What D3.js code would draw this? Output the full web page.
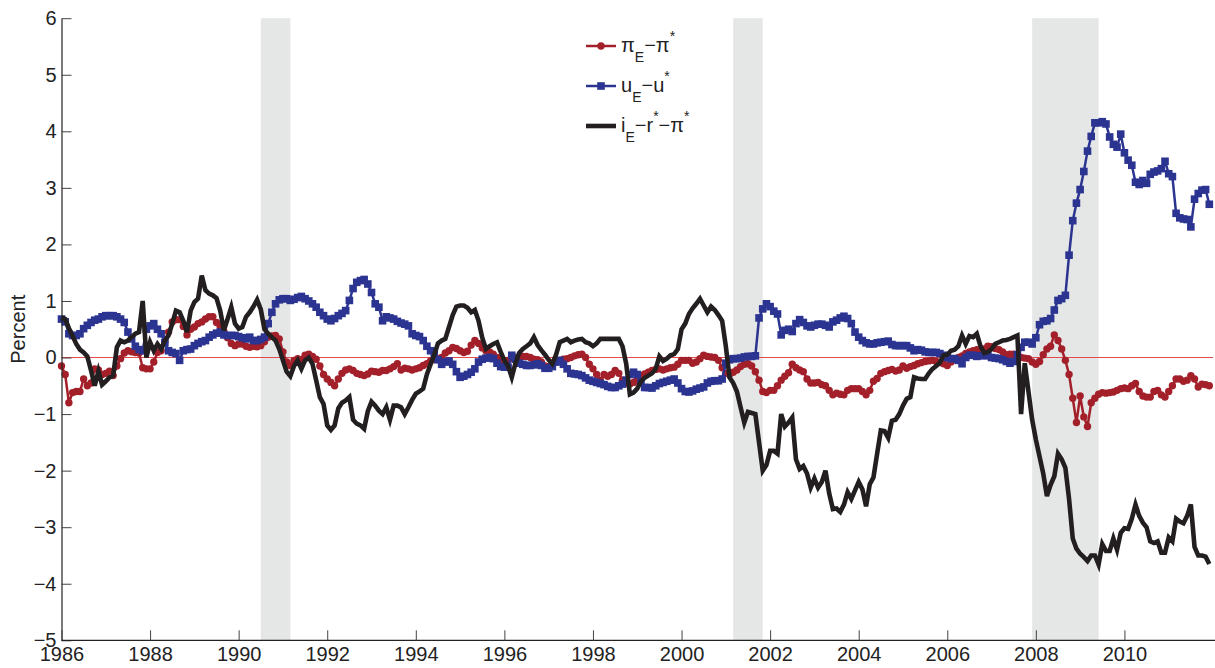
<!DOCTYPE html>
<html>
<head>
<meta charset="utf-8">
<script src="https://cdn.jsdelivr.net/npm/d3@7/dist/d3.min.js"></script>
<style>
  html, body { margin: 0; padding: 0; background: #fff; }
  svg { display: block; font-family: "Liberation Sans", Arial, Helvetica, sans-serif; }
</style>
</head>
<body>
<script>
// Monthly gaps, January 1986 onward (percent)
const startYear = 1986;

// inflation gap: pi_E - pi*
const piGap = [
  -0.15,-0.3,-0.8,-0.62,-0.6,-0.6,-0.38,-0.5,-0.45,-0.2,
  -0.22,-0.3,-0.28,-0.24,-0.32,-0.15,-0.02,0.08,0.12,0.1,
  0.09,0.08,-0.18,-0.2,-0.2,-0.08,0.09,0.12,0.28,0.45,
  0.63,0.67,0.67,0.55,0.4,0.5,0.54,0.6,0.63,0.68,
  0.72,0.72,0.62,0.55,0.46,0.35,0.25,0.21,0.24,0.24,
  0.2,0.18,0.2,0.19,0.21,0.28,0.36,0.38,0.39,0.33,
  0.1,-0.08,-0.14,-0.05,-0.02,-0.04,0.04,0.06,0.02,-0.03,
  -0.15,-0.3,-0.38,-0.44,-0.5,-0.38,-0.28,-0.22,-0.2,-0.23,
  -0.28,-0.3,-0.32,-0.29,-0.24,-0.25,-0.26,-0.23,-0.23,-0.2,
  -0.16,-0.11,-0.22,-0.19,-0.2,-0.22,-0.2,-0.18,-0.14,-0.11,
  -0.06,-0.03,-0.02,0,0.08,0.12,0.18,0.16,0.12,0.09,
  0.11,0.22,0.3,0.25,0.17,0.12,0.1,0.06,0,-0.04,
  -0.05,-0.05,-0.02,0,0.01,0.02,0.02,0,-0.03,-0.04,
  -0.08,-0.15,-0.16,-0.12,-0.08,-0.05,-0.03,-0.02,0,0.03,
  0.05,0.06,0,-0.12,-0.2,-0.3,-0.4,-0.3,-0.33,-0.3,
  -0.23,-0.28,-0.4,-0.45,-0.47,-0.44,-0.38,-0.32,-0.29,-0.26,
  -0.23,-0.21,-0.2,-0.22,-0.2,-0.18,-0.17,-0.12,-0.05,-0.05,
  -0.05,-0.1,-0.08,-0.02,0.04,0.02,0.01,0,-0.05,-0.18,
  -0.28,-0.3,-0.26,-0.22,-0.16,-0.12,-0.11,-0.15,-0.25,-0.4,
  -0.6,-0.62,-0.58,-0.58,-0.5,-0.4,-0.33,-0.27,-0.12,-0.18,
  -0.22,-0.25,-0.38,-0.45,-0.45,-0.44,-0.48,-0.5,-0.58,-0.66,
  -0.63,-0.65,-0.66,-0.58,-0.55,-0.55,-0.55,-0.6,-0.66,-0.58,
  -0.42,-0.37,-0.28,-0.25,-0.23,-0.21,-0.24,-0.22,-0.15,-0.19,
  -0.16,-0.14,-0.11,-0.09,-0.07,-0.06,-0.05,-0.07,-0.09,-0.11,
  -0.14,-0.08,-0.03,0,0.03,0.07,0.1,0.12,0.14,0.13,
  0.15,0.2,0.19,0.16,0.14,0.1,0.05,0.06,0.06,0.02,
  0,-0.01,-0.02,-0.08,-0.12,-0.07,0.05,0.15,0.2,0.4,
  0.3,0.15,-0.05,-0.3,-0.72,-1.15,-0.68,-1.05,-1.22,-0.8,
  -0.72,-0.65,-0.62,-0.63,-0.62,-0.61,-0.58,-0.55,-0.54,-0.55,
  -0.5,-0.46,-0.6,-0.68,-0.7,-0.7,-0.6,-0.58,-0.66,-0.7,
  -0.6,-0.5,-0.38,-0.38,-0.42,-0.4,-0.32,-0.38,-0.52,-0.47,
  -0.48,-0.5
];

// unemployment gap: u_E - u*
const uGap = [
  0.68,0.63,0.42,0.39,0.39,0.42,0.51,0.57,0.62,0.66,
  0.68,0.72,0.74,0.74,0.74,0.72,0.68,0.62,0.45,0.33,
  0.2,0.14,0.12,0.5,0.56,0.6,0.5,0.42,0.26,0.12,
  0.09,0.07,-0.05,0.12,0.14,0.15,0.21,0.25,0.28,0.3,
  0.36,0.4,0.43,0.45,0.4,0.39,0.39,0.39,0.37,0.35,
  0.33,0.36,0.3,0.3,0.32,0.36,0.6,0.8,0.95,1.02,
  1.04,1.04,1.01,1.03,1.06,1.08,1.04,1.0,0.95,0.89,
  0.8,0.74,0.68,0.65,0.69,0.74,0.78,0.83,1.01,1.22,
  1.33,1.36,1.38,1.3,1.15,0.95,0.89,0.65,0.72,0.7,
  0.68,0.64,0.61,0.59,0.56,0.42,0.39,0.37,0.3,0.2,
  0.12,0.08,-0.04,-0.12,-0.08,-0.06,-0.12,-0.25,-0.35,-0.33,
  -0.3,-0.26,-0.2,-0.08,-0.03,-0.01,0,-0.02,-0.1,-0.16,
  -0.17,-0.17,0.04,-0.03,-0.1,-0.12,-0.14,-0.14,-0.13,-0.11,
  -0.14,-0.19,-0.19,-0.16,-0.08,-0.05,-0.12,-0.2,-0.28,-0.29,
  -0.3,-0.32,-0.36,-0.4,-0.42,-0.44,-0.46,-0.48,-0.51,-0.53,
  -0.53,-0.5,-0.47,-0.4,-0.3,-0.26,-0.3,-0.44,-0.53,-0.53,
  -0.54,-0.5,-0.46,-0.44,-0.42,-0.4,-0.38,-0.45,-0.55,-0.6,
  -0.61,-0.59,-0.56,-0.54,-0.52,-0.45,-0.42,-0.41,-0.41,-0.38,
  -0.1,-0.04,-0.02,-0.02,-0.01,0.01,0.02,0.02,0.03,0.7,
  0.86,0.95,0.9,0.82,0.77,0.4,0.48,0.5,0.46,0.6,
  0.67,0.62,0.56,0.54,0.57,0.59,0.59,0.57,0.54,0.63,
  0.66,0.7,0.73,0.69,0.6,0.45,0.36,0.3,0.26,0.24,
  0.24,0.26,0.27,0.28,0.29,0.23,0.21,0.21,0.21,0.21,
  0.17,0.12,0.14,0.13,0.1,0.09,0.09,0.09,0.07,0.04,
  0,-0.02,-0.02,-0.05,-0.11,0,0.04,0.04,0.02,0.03,
  0.04,0.03,0,-0.01,-0.02,-0.04,-0.07,-0.1,-0.07,0.05,
  0.18,0.27,0.27,0.24,0.35,0.58,0.64,0.65,0.69,0.84,
  1.01,1.04,1.1,1.81,2.42,2.73,2.97,3.29,3.65,3.91,
  4.15,4.15,4.17,4.13,3.9,3.77,3.72,3.95,3.62,3.49,
  3.4,3.1,3.06,3.13,3.08,3.24,3.28,3.3,3.34,3.47,
  3.25,3.2,2.55,2.47,2.45,2.44,2.31,2.8,2.9,2.96,
  2.97,2.71
];

// real policy-rate gap: i_E - r* - pi*
const iGap = [
  0.71,0.68,0.52,0.38,0.24,0.14,0.09,0.02,-0.23,-0.5,
  -0.24,-0.48,-0.42,-0.35,-0.32,0.18,0.3,0.27,0.3,0.36,
  0.42,0.45,1.0,0,0.27,0.12,0.24,0.15,0.3,0.39,
  0.6,0.83,0.8,0.65,0.45,0.83,0.98,1.04,1.45,1.19,
  1.13,1.1,1.05,0.83,0.48,0.68,0.89,0.6,0.51,0.54,
  0.72,0.8,0.9,1.02,0.85,0.5,0.42,0.36,0.3,0.15,
  -0.05,-0.25,-0.33,-0.15,-0.05,-0.2,-0.05,0,-0.11,-0.4,
  -0.7,-0.82,-1.2,-1.28,-1.2,-0.9,-0.8,-0.76,-0.7,-1.1,
  -1.17,-1.2,-1.26,-0.95,-0.78,-0.85,-0.94,-1.0,-0.88,-1.1,
  -0.85,-0.85,-0.88,-1.0,-0.88,-0.75,-0.64,-0.6,-0.55,-0.3,
  -0.12,0.05,0.25,0.3,0.33,0.54,0.75,0.9,0.92,0.92,
  0.88,0.8,0.84,0.65,0.35,0.15,0.2,0.24,0.27,0.1,
  -0.05,-0.15,-0.35,-0.1,0.08,0.15,0.2,0.25,0.36,0.22,
  0.13,0.05,-0.04,-0.11,0.05,0.27,0.3,0.33,0.27,0.3,
  0.32,0.33,0.27,0.25,0.2,0.25,0.33,0.33,0.33,0.33,
  0.33,0.33,0.2,-0.11,-0.65,-0.62,-0.55,-0.42,-0.36,-0.32,
  -0.28,-0.2,0.02,-0.06,-0.02,0.04,0.06,0.15,0.5,0.6,
  0.77,0.87,0.95,1.04,0.92,0.8,0.9,0.84,0.75,0.65,
  0.2,-0.35,-0.45,-0.6,-0.88,-1.15,-0.96,-0.98,-1.0,-1.5,
  -2.0,-1.9,-1.65,-1.65,-1.7,-1.0,-1.22,-1.15,-1.06,-1.8,
  -1.97,-1.92,-2.05,-2.3,-2.14,-2.3,-2.2,-2.0,-2.4,-2.68,
  -2.67,-2.73,-2.6,-2.38,-2.5,-2.35,-2.2,-2.33,-2.63,-2.24,
  -2.12,-1.7,-1.29,-1.3,-1.42,-1.12,-1.1,-1.0,-0.85,-0.73,
  -0.7,-0.35,-0.37,-0.38,-0.38,-0.28,-0.2,-0.15,-0.09,0.04,
  0.05,0.12,0.14,0.2,0.39,0.24,0.38,0.36,0.42,0.2,
  0.08,0.1,0.15,0.24,0.27,0.3,0.31,0.33,0.36,0.39,
  -1.0,-0.1,-0.6,-1.1,-1.45,-1.75,-2.05,-2.45,-2.25,-2.1,
  -1.7,-1.8,-1.95,-2.5,-3.2,-3.38,-3.47,-3.53,-3.6,-3.5,
  -3.5,-3.66,-3.3,-3.42,-3.42,-3.2,-3.4,-3.1,-3.02,-3.03,
  -2.85,-2.6,-2.8,-2.92,-3.0,-3.25,-3.28,-3.25,-3.45,-3.45,
  -3.18,-3.25,-2.85,-2.9,-2.93,-2.8,-2.6,-3.35,-3.5,-3.5,
  -3.52,-3.65
];

// NBER recessions (start, end), in fractional years
const recessions = [[1990.5, 1991.167], [2001.167, 2001.833], [2007.917, 2009.417]];

const xTickYears = [1986, 1988, 1990, 1992, 1994, 1996, 1998, 2000, 2002, 2004, 2006, 2008, 2010];
const yTickValues = [-5, -4, -3, -2, -1, 0, 1, 2, 3, 4, 5, 6];

const W = 1215, H = 668;
const svg = d3.select("body").append("svg").attr("width", W).attr("height", H);

const x = d3.scaleLinear().domain([1986, 2012]).range([61.5, 1213]);
const y = d3.scaleLinear().domain([-5, 6]).range([640.3, 18.2]);

const monthYear = i => startYear + i / 12;

// recession shading
svg.append("g").selectAll("rect").data(recessions).join("rect")
  .attr("x", d => x(d[0]))
  .attr("width", d => x(d[1]) - x(d[0]))
  .attr("y", y(6))
  .attr("height", y(-5) - y(6))
  .attr("fill", "#e5e6e6");

// zero reference
svg.append("line")
  .attr("x1", x(1986)).attr("x2", x(2012))
  .attr("y1", y(0)).attr("y2", y(0))
  .attr("stroke", "#e4474a").attr("stroke-width", 1);

const line = d3.line().x((d, i) => x(monthYear(i))).y(d => y(d));

const RED = "#a3202a", BLUE = "#2b3491", BLACK = "#231f20";
const sq = 7.6;

// inflation gap
svg.append("path").datum(piGap).attr("d", line)
  .attr("fill", "none").attr("stroke", RED).attr("stroke-width", 2.5).attr("stroke-linejoin", "round");
svg.append("g").selectAll("circle").data(piGap).join("circle")
  .attr("cx", (d, i) => x(monthYear(i))).attr("cy", d => y(d)).attr("r", 3.7)
  .attr("fill", RED);

// unemployment gap
svg.append("path").datum(uGap).attr("d", line)
  .attr("fill", "none").attr("stroke", BLUE).attr("stroke-width", 2.5).attr("stroke-linejoin", "round");
svg.append("g").selectAll("rect").data(uGap).join("rect")
  .attr("x", (d, i) => x(monthYear(i)) - sq / 2).attr("y", d => y(d) - sq / 2)
  .attr("width", sq).attr("height", sq)
  .attr("fill", BLUE);

// policy-rate gap
svg.append("path").datum(iGap).attr("d", line)
  .attr("fill", "none").attr("stroke", BLACK).attr("stroke-width", 4.6)
  .attr("stroke-linejoin", "miter").attr("stroke-miterlimit", 4);

// axes
const yAxis = d3.axisLeft(y).tickValues(yTickValues).tickSizeInner(-10).tickSizeOuter(0).tickPadding(5)
  .tickFormat(d3.format("d"));
const gy = svg.append("g").attr("transform", `translate(${x(1986)},0)`).call(yAxis);

const xAxis = d3.axisBottom(x).tickValues(xTickYears).tickSizeInner(-10).tickSizeOuter(0).tickPadding(7)
  .tickFormat(d3.format("d"));
const gx = svg.append("g").attr("transform", `translate(0,${y(-5)})`).call(xAxis);
gx.select(".domain").attr("d", `M${x(1986)},0H${W}`);

[gx, gy].forEach(g => {
  g.select(".domain").attr("stroke", "#222").attr("stroke-width", 1.2);
  g.selectAll(".tick line").attr("stroke", "#444").attr("stroke-width", 1);
  g.selectAll(".tick text").attr("fill", "#222").attr("font-size", 20)
    .attr("font-family", "'Liberation Sans', Arial, Helvetica, sans-serif");
});

// y-axis title
svg.append("text")
  .attr("transform", `translate(25,${(y(6) + y(-5)) / 2}) rotate(-90)`)
  .attr("text-anchor", "middle").attr("font-size", 20).attr("fill", "#222")
  .text("Percent");

// legend
const legend = svg.append("g");
legend.append("rect").attr("x", 578).attr("y", 23).attr("width", 116).attr("height", 126).attr("fill", "#fff");

const legendItems = [
  { y: 46, color: RED, marker: "circle", width: 2.5,
    parts: [["π"], ["E", "sub"], ["−π"], ["*", "sup"]] },
  { y: 86, color: BLUE, marker: "square", width: 2.5,
    parts: [["u"], ["E", "sub"], ["−u"], ["*", "sup"]] },
  { y: 126, color: BLACK, marker: null, width: 4.6,
    parts: [["i"], ["E", "sub"], ["−r"], ["*", "sup"], ["−π"], ["*", "sup"]] }
];

legendItems.forEach(item => {
  legend.append("line").attr("x1", 586).attr("x2", 616).attr("y1", item.y).attr("y2", item.y)
    .attr("stroke", item.color).attr("stroke-width", item.width);
  if (item.marker === "circle") {
    legend.append("circle").attr("cx", 601).attr("cy", item.y).attr("r", 3.7).attr("fill", item.color);
  } else if (item.marker === "square") {
    legend.append("rect").attr("x", 601 - sq / 2).attr("y", item.y - sq / 2)
      .attr("width", sq).attr("height", sq).attr("fill", item.color);
  }
  const t = legend.append("text").attr("x", 621).attr("y", item.y + 6)
    .attr("font-size", 20).attr("fill", "#222");
  let level = 0;
  item.parts.forEach(([s, kind]) => {
    const target = kind === "sub" ? 10 : kind === "sup" ? -11 : 0;
    t.append("tspan")
      .attr("dy", target - level)
      .attr("font-size", kind ? 14 : 20)
      .text(s);
    level = target;
  });
});
</script>
</body>
</html>
